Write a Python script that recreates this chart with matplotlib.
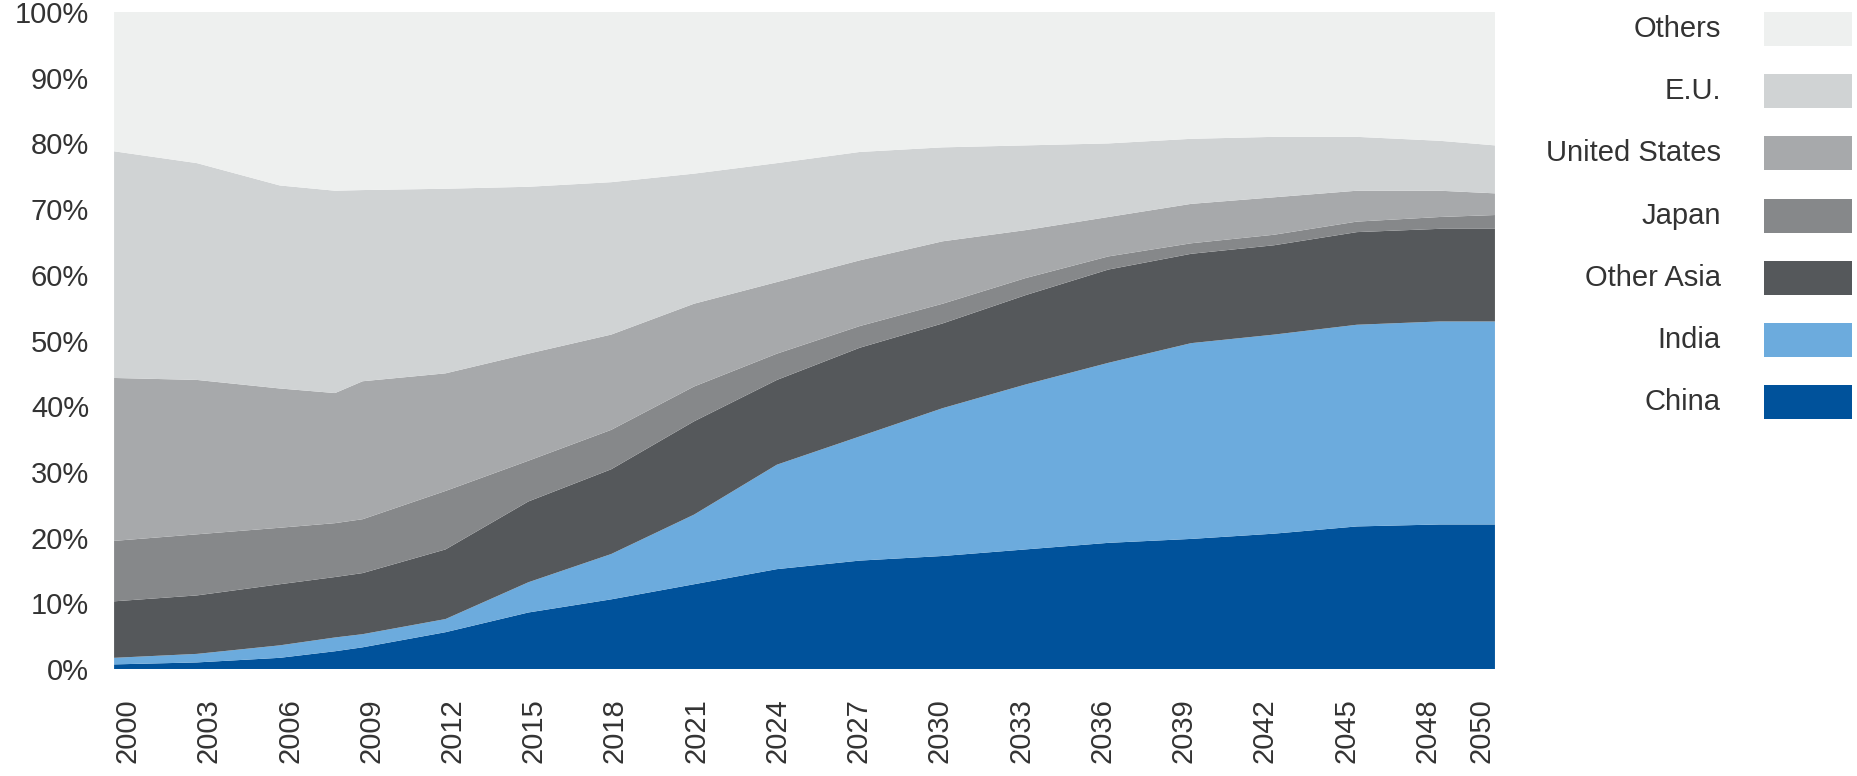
import matplotlib
matplotlib.use("Agg")
import matplotlib.pyplot as plt
import numpy as np
from matplotlib.patches import Rectangle

plt.rcParams['font.family'] = ['Liberation Sans', 'DejaVu Sans']

# years
years = [2000, 2003, 2006, 2008, 2009, 2012, 2015, 2018, 2021, 2024,
         2027, 2030, 2033, 2036, 2039, 2042, 2045, 2048, 2050]

# shares in % (bottom to top of the stack)
china = [0.7, 1.0, 1.7, 2.7, 3.3, 5.6, 8.6, 10.6, 12.9, 15.2,
         16.5, 17.2, 18.2, 19.2, 19.8, 20.6, 21.7, 22.0, 22.0]
india = [1.0, 1.3, 1.9, 2.1, 2.0, 2.0, 4.6, 6.9, 10.6, 15.9,
         18.9, 22.5, 25.1, 27.4, 29.8, 30.3, 30.7, 30.9, 30.9]
other_asia = [8.6, 8.9, 9.3, 9.2, 9.3, 10.6, 12.3, 12.9, 14.2, 12.9,
              13.5, 12.9, 13.6, 14.2, 13.6, 13.6, 14.1, 14.1, 14.1]
japan = [9.2, 9.3, 8.6, 8.2, 8.2, 8.9, 6.2, 6.0, 5.3, 4.0,
         3.3, 3.0, 2.6, 2.0, 1.6, 1.6, 1.6, 1.8, 2.1]
usa = [24.8, 23.5, 21.2, 19.8, 21.0, 17.9, 16.3, 14.5, 12.6, 10.9,
       10.0, 9.5, 7.3, 6.0, 6.0, 5.7, 4.7, 4.0, 3.3]
eu = [34.5, 33.0, 30.9, 30.8, 29.1, 28.1, 25.4, 23.2, 19.8, 18.1,
      16.5, 14.3, 12.9, 11.2, 9.9, 9.2, 8.2, 7.6, 7.3]
others = [21.2, 23.0, 26.4, 27.2, 27.1, 26.9, 26.6, 25.9, 24.6, 23.0,
          21.3, 20.6, 20.3, 20.0, 19.3, 19.0, 19.0, 19.6, 20.3]

labels = ['China', 'India', 'Other Asia', 'Japan', 'United States', 'E.U.', 'Others']
colors = ['#00529B', '#6CABDD', '#55585B', '#86888A', '#A7A9AB', '#D0D3D4', '#EEF0EF']

tick_years = [2000, 2003, 2006, 2009, 2012, 2015, 2018, 2021, 2024,
              2027, 2030, 2033, 2036, 2039, 2042, 2045, 2048, 2050]

txt = '#333333'
fs = 21

fig = plt.figure(figsize=(18.58, 7.76), dpi=100)
ax = fig.add_axes([0.0614, 0.1379, 0.7432, 0.8466])

series = np.array([china, india, other_asia, japan, usa, eu, others]) / 100.0
ax.stackplot(years, series, colors=colors, linewidth=0)

ax.set_xlim(2000, 2050)
ax.set_ylim(0, 1)

# labels sit in the middle of each yearly category (51 of them)
pos = [2000 + (y - 2000 + 0.5) * 50 / 51 for y in tick_years]
ax.set_xticks(pos)
ax.set_xticklabels([str(y) for y in tick_years], rotation=90,
                   fontsize=fs, color=txt)
ax.set_yticks(np.arange(0, 1.01, 0.1))
ax.set_yticklabels(['%d%%' % v for v in range(0, 101, 10)],
                   fontsize=fs, color=txt)
ax.tick_params(axis='both', length=0)
ax.tick_params(axis='y', pad=18)
ax.tick_params(axis='x', pad=21)
for s in ax.spines.values():
    s.set_visible(False)

# legend drawn by hand: label on the left, swatch on the right
W, H = 1858.0, 776.0
row0, step = 29, 62.2
for i, (lab, col) in enumerate(zip(labels[::-1], colors[::-1])):
    yc = row0 + i * step
    fig.patches.append(Rectangle((1764 / W, 1 - (yc + 17) / H), 88 / W, 34 / H,
                                 facecolor=col, edgecolor='none',
                                 transform=fig.transFigure))
    fig.text(1721 / W, 1 - yc / H, lab, ha='right', va='center',
             fontsize=fs, color=txt)

fig.savefig('out.png', dpi=100, facecolor='white')
